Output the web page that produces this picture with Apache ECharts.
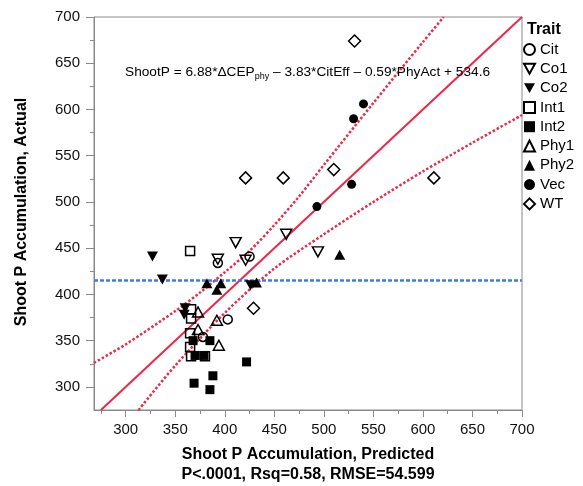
<!DOCTYPE html>
<html>
<head>
<meta charset="utf-8">
<script src="https://cdn.jsdelivr.net/npm/echarts@6/dist/echarts.min.js"></script>
<style>
html, body { margin: 0; padding: 0; background: #fff; }
#chart { width: 583px; height: 486px; }
</style>
</head>
<body>
<div id="chart"></div>
<script>
// points: [predicted, actual]
var citPts = [[393, 434], [425, 441], [403, 373], [378, 354]];
var co1Pts = [[462, 465], [411, 456], [494, 446], [393, 438], [421, 437]];
var co2Pts = [[327, 441], [337, 416], [426, 410], [360, 385], [359, 378]];
var int1Pts = [[365, 447], [366, 384], [366, 374], [365, 358], [365, 343], [366, 333], [380, 333]];
var int2Pts = [[368, 350], [385, 350], [370, 334], [379, 334], [422, 327], [388, 312], [369, 304], [385, 297]];
var phy1Pts = [[373, 381], [373, 362], [392, 372], [394, 345]];
var phy2Pts = [[382, 412], [396, 412], [392, 405], [432, 413], [516, 443]];
var vecPts = [[540, 606], [530, 590], [528, 519], [493, 495]];
var wtPts = [[531, 674], [421, 526], [459, 526], [510, 535], [611, 526], [429, 385]];

// fit line (actual = predicted) and the two confidence curves
var fitLine = [[275, 275], [700, 700]];
var upperX = [268, 300, 350, 375, 400, 425, 450, 475, 500, 550, 600, 621];
var upperY = [326, 346, 382, 402, 424, 447, 475, 506, 540, 607, 673, 700];
var lowerX = [313, 350, 400, 450, 500, 550, 600, 650, 700];
var lowerY = [275, 323, 380, 428, 465, 500, 533, 564, 594];
var meanY = 415;

var xMajor = [300, 350, 400, 450, 500, 550, 600, 650, 700];
var xMinor = [275, 325, 375, 425, 475, 525, 575, 625, 675];
var yMajor = [300, 350, 400, 450, 500, 550, 600, 650, 700];
var yMinor = [325, 375, 425, 475, 525, 575, 625, 675];

var FONT = '"Liberation Sans", Arial, Helvetica, sans-serif';
var RED = '#ee2748';
var BLUE = '#3a7bf4';
var AXIS = '#8a8a8a';
var DOWN = 'path://M0,0 L10,0 L5,9 Z';

function pair(xs, ys) {
    var out = [];
    for (var i = 0; i < xs.length; i++) out.push([xs[i], ys[i]]);
    return out;
}

function traitSeries(name, data, symbol, size, filled) {
    return {
        name: name,
        type: 'scatter',
        data: data,
        symbol: symbol,
        symbolSize: size,
        z: 5,
        itemStyle: {
            opacity: 1,
            color: filled ? '#000' : 'rgba(255,255,255,0)',
            borderColor: '#000',
            borderWidth: filled ? 0 : 1.5
        }
    };
}

var chart = echarts.init(document.getElementById('chart'));

var option = {
    animation: false,
    grid: {
        left: 94, right: 61, top: 17, bottom: 76,
        show: true, borderColor: AXIS, borderWidth: 1
    },
    xAxis: [{
        type: 'value', min: 268, max: 700,
        axisLine: { onZero: false, lineStyle: { color: AXIS } },
        axisTick: { customValues: xMajor, length: 7, lineStyle: { color: AXIS } },
        axisLabel: { customValues: xMajor, margin: 12, fontSize: 15, color: '#111', fontFamily: FONT },
        splitLine: { show: false }
    }, {
        type: 'value', min: 268, max: 700, position: 'bottom',
        axisLine: { show: false, onZero: false },
        axisTick: { customValues: xMinor, length: 4, lineStyle: { color: AXIS } },
        axisLabel: { show: false },
        splitLine: { show: false }
    }],
    yAxis: [{
        type: 'value', min: 275, max: 700,
        axisLine: { show: true, onZero: false, lineStyle: { color: AXIS } },
        axisTick: { show: true, customValues: yMajor, length: 8, lineStyle: { color: AXIS } },
        axisLabel: { customValues: yMajor, margin: 14, fontSize: 15, color: '#111', fontFamily: FONT },
        splitLine: { show: false }
    }, {
        type: 'value', min: 275, max: 700, position: 'left',
        axisLine: { show: false, onZero: false },
        axisTick: { show: true, customValues: yMinor, length: 4, lineStyle: { color: AXIS } },
        axisLabel: { show: false },
        splitLine: { show: false }
    }],
    legend: {
        orient: 'vertical',
        left: 523, top: 42, padding: 0,
        itemWidth: 11, itemHeight: 11,
        itemGap: 4.3,
        data: ['Cit', 'Co1', 'Co2', 'Int1', 'Int2', 'Phy1', 'Phy2', 'Vec', 'WT'],
        textStyle: { fontSize: 15, lineHeight: 15, color: '#000', fontFamily: FONT },
        selectedMode: false
    },
    graphic: [{
        type: 'text', x: 125, y: 63, z: 10,
        style: {
            text: '{m|ShootP = 6.88*ΔCEP}{s|phy}{m| – 3.83*CitEff – 0.59*PhyAct + 534.6}',
            rich: {
                m: { fontSize: 13.7, fontFamily: FONT, fill: '#000', lineHeight: 18 },
                s: { fontSize: 9, fontFamily: FONT, fill: '#000', lineHeight: 10, verticalAlign: 'bottom' }
            }
        }
    }, {
        type: 'text', x: 527, y: 30,
        style: { text: 'Trait', font: 'bold 16px ' + FONT, fill: '#000', verticalAlign: 'middle' }
    }, {
        type: 'text', x: 308, y: 455,
        style: { text: 'Shoot P Accumulation, Predicted', font: 'bold 16px ' + FONT, fill: '#000', align: 'center', verticalAlign: 'middle' }
    }, {
        type: 'text', x: 308, y: 475,
        style: { text: 'P<.0001, Rsq=0.58, RMSE=54.599', font: 'bold 16px ' + FONT, fill: '#000', align: 'center', verticalAlign: 'middle' }
    }, {
        type: 'text', x: 22, y: 212, rotation: Math.PI / 2,
        style: { text: 'Shoot P Accumulation, Actual', font: 'bold 16px ' + FONT, fill: '#000', align: 'center', verticalAlign: 'middle' }
    }],
    series: [
        {
            type: 'line', data: fitLine, symbol: 'none', silent: true, z: 3,
            lineStyle: { color: RED, width: 2 },
            markLine: {
                silent: true, symbol: 'none', label: { show: false },
                lineStyle: { color: BLUE, width: 2.5, type: [4, 2] },
                data: [{ yAxis: meanY }]
            }
        },
        {
            type: 'line', data: pair(upperX, upperY), symbol: 'none', smooth: 0.3, silent: true, z: 3,
            lineStyle: { color: RED, width: 2.5, type: [2.5, 2] }
        },
        {
            type: 'line', data: pair(lowerX, lowerY), symbol: 'none', smooth: 0.3, silent: true, z: 3,
            lineStyle: { color: RED, width: 2.5, type: [2.5, 2] }
        },
        traitSeries('Cit', citPts, 'circle', 9, false),
        traitSeries('Co1', co1Pts, DOWN, [11, 10], false),
        traitSeries('Co2', co2Pts, DOWN, [11, 10], true),
        traitSeries('Int1', int1Pts, 'rect', 9, false),
        traitSeries('Int2', int2Pts, 'rect', 9, true),
        traitSeries('Phy1', phy1Pts, 'triangle', [11, 10], false),
        traitSeries('Phy2', phy2Pts, 'triangle', [11, 10], true),
        traitSeries('Vec', vecPts, 'circle', 9, true),
        traitSeries('WT', wtPts, 'diamond', [12, 12], false)
    ]
};
chart.setOption(option);
</script>
</body>
</html>
